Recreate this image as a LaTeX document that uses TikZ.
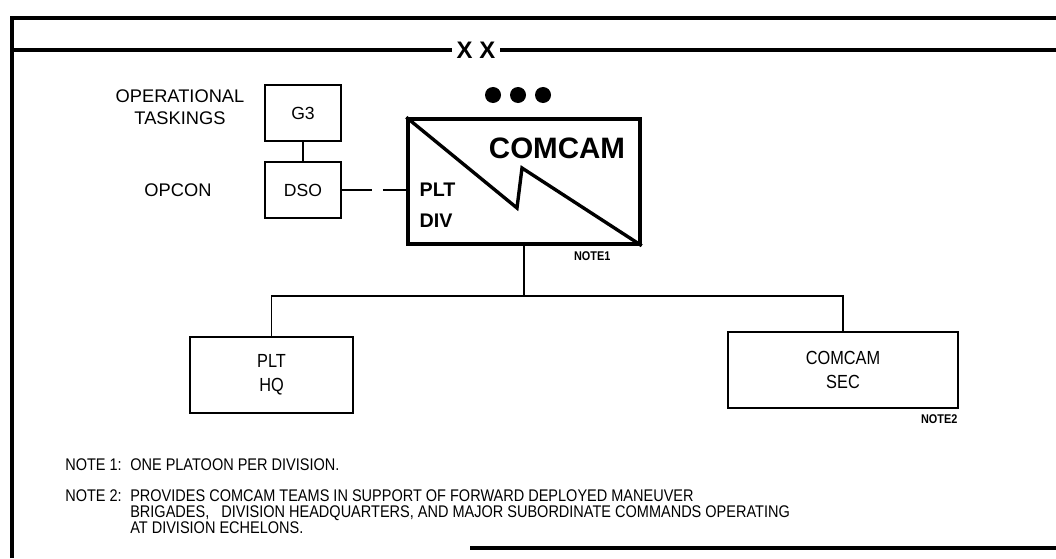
\documentclass[tikz,border=0pt]{standalone}
\usepackage{fontspec}
\setmainfont{Liberation Sans}
\newfontfamily\narrowfont{Liberation Sans}[FakeStretch=0.86]
\usetikzlibrary{positioning}

\begin{document}
\begin{tikzpicture}[
    x=0.025cm, y=-0.025cm,
    every node/.style={font=\fontsize{12.5}{15}\selectfont, align=center, inner sep=1pt},
    frameline/.style={line width=2.8pt},
    link/.style={line width=1.4pt},
    unitbox/.style={draw, line width=1.4pt, minimum width=1.9cm, minimum height=1.38cm},
    wideunit/.style={draw, line width=1.4pt, minimum height=1.9cm, font=\narrowfont\fontsize{13.5}{15}\selectfont},
    notetag/.style={font=\narrowfont\fontsize{9}{9}\selectfont\bfseries},
    notetext/.style={anchor=base west, inner sep=0pt, font=\narrowfont\fontsize{12}{14}\selectfont}
]
    \useasboundingbox (0,0) rectangle (1056,558);

    % outer frame and echelon bar
    \draw[frameline] (12,558) |- (1056,18);
    \node[fill=white, inner sep=3pt, font=\fontsize{17}{17}\selectfont\bfseries] (ech) at (476,50) {X X};
    \draw[frameline] (12,50) -- (ech.west);
    \draw[frameline] (ech.east) -- (1056,50);
    \draw[frameline] (470,548) -- (1056,548);

    % platoon symbol
    \foreach \dx in {493,518,543} \fill (\dx,95) circle (0.2cm);
    \node[draw, line width=2.4pt, minimum width=5.8cm, minimum height=3.125cm] (div) at (524,181.5) {};
    \draw[line width=2.4pt, line join=miter] (div.north west) -- (517,208) -- (522,168) -- (div.south east);
    \node[font=\fontsize{21}{21}\selectfont\bfseries] (comcam) at (557,148) {COMCAM};
    \node[anchor=west, align=left, font=\fontsize{14}{22}\selectfont\bfseries] (pltdiv) at (418,205) {PLT\\DIV};
    \node[notetag, anchor=north east] (n1tag) at (612,250) {NOTE1};

    % control
    \node[unitbox] (g3) at (303,113) {G3};
    \node[unitbox] (dso) at (303,190) {DSO};
    \node[font=\fontsize{13}{15.5}\selectfont] (tasks) at (180,107) {OPERATIONAL\\TASKINGS};
    \node[font=\fontsize{13}{15}\selectfont] (opcon) at (178,190) {OPCON};
    \draw[link] (g3) -- (dso);
    \draw[link, dash pattern=on 21pt off 8pt] (dso.east) -- (dso.east -| div.west);

    % subordinate elements
    \node[wideunit, minimum width=4.075cm] (hq) at (271.5,375) {PLT\\[2pt]HQ};
    \node[wideunit, minimum width=5.75cm] (sec) at (843,370) {COMCAM\\[2pt]SEC};
    \node[notetag, below left=3pt and 0pt of sec.south east] (n2tag) {NOTE2};
    \draw[link] (div.south) -- (524,296) -| (hq.north);
    \draw[link] (524,296) -| (sec.north);

    % notes
    \node[notetext] (n1) at (65,470) {NOTE 1:};
    \node[notetext] (n1txt) at (130,470) {ONE PLATOON PER DIVISION.};
    \node[notetext] (n2) at (65,501) {NOTE 2:};
    \node[notetext] (n2a) at (130,501) {PROVIDES COMCAM TEAMS IN SUPPORT OF FORWARD DEPLOYED MANEUVER};
    \node[notetext] (n2b) at (130,517) {BRIGADES,\ \ \ DIVISION HEADQUARTERS, AND MAJOR SUBORDINATE COMMANDS OPERATING};
    \node[notetext] (n2c) at (130,533) {AT DIVISION ECHELONS.};
\end{tikzpicture}
\end{document}
